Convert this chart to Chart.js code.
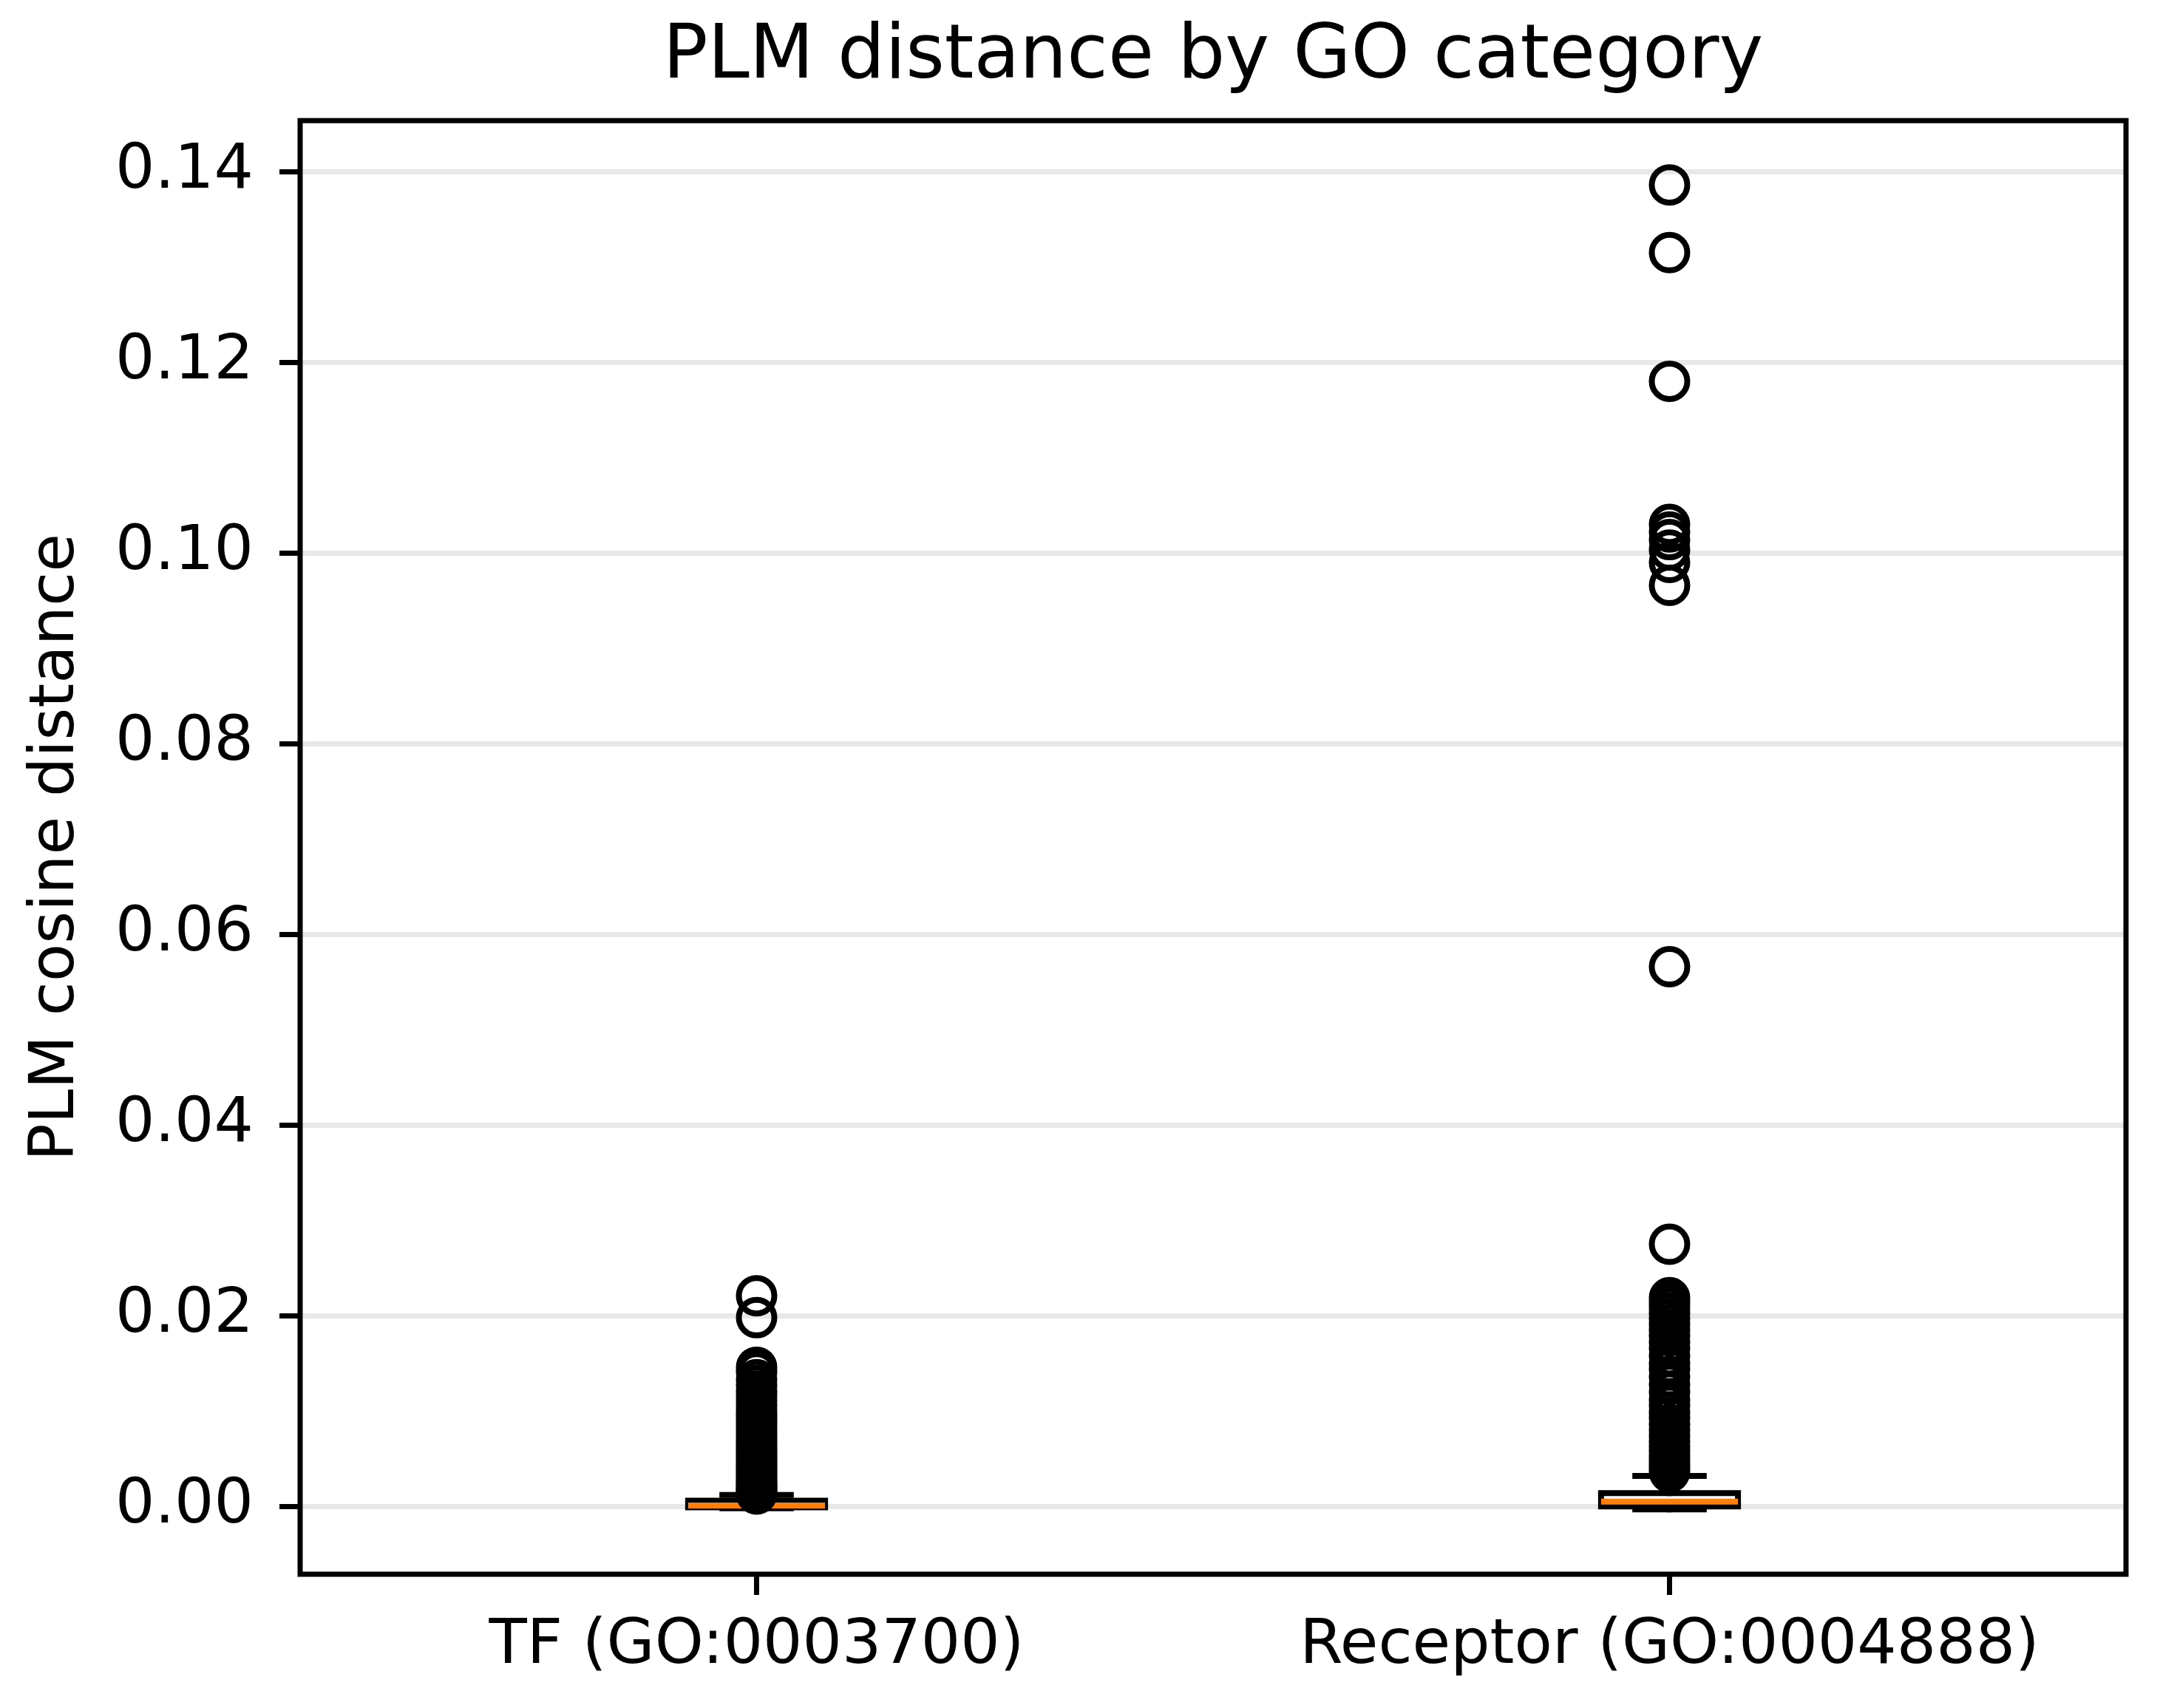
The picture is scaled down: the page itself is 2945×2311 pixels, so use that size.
<!DOCTYPE html>
<html>
<head>
<meta charset="utf-8">
<script src="https://cdn.jsdelivr.net/npm/chart.js@4.4.1/dist/chart.umd.min.js"></script>
<style>
  html, body { margin: 0; padding: 0; background: #fff; }
  canvas { display: block; }
</style>
</head>
<body>
<canvas id="chart" width="2945" height="2311"></canvas>
<script>
const categories = ['TF (GO:0003700)', 'Receptor (GO:0004888)']
const positions = [1, 2]
const whiskerLow = [-0.0002, -0.0003]
const q1 = [-0.0001, 0.0000]
const medians = [0.0001, 0.0005]
const q3 = [0.0006, 0.0014]
const whiskerHigh = [0.0012, 0.0032]
const tfOutliers = [
  0.0221, 0.0198, 0.0146, 0.0141, 0.0133, 0.0127, 0.0121, 0.0116, 0.0111, 0.0106,
  0.0101, 0.0097, 0.0093, 0.0089, 0.0085, 0.0081, 0.0077, 0.0073, 0.0069, 0.0066,
  0.0062, 0.0059, 0.0056, 0.0052, 0.0049, 0.0046, 0.0043, 0.0040, 0.0037, 0.0034,
  0.0031, 0.0028, 0.0026, 0.0023, 0.0021, 0.0019, 0.0017, 0.0015, 0.0013,
]
const receptorOutliers = [
  0.1386, 0.1315, 0.1180, 0.1030, 0.1022, 0.1014, 0.1003, 0.0990, 0.0966, 0.0566,
  0.0275, 0.0219, 0.0214, 0.0209, 0.0203, 0.0197, 0.0191, 0.0185, 0.0179, 0.0172,
  0.0166, 0.0158, 0.0150, 0.0144, 0.0136, 0.0128, 0.0120, 0.0112, 0.0106, 0.0099,
  0.0093, 0.0086, 0.0080, 0.0074, 0.0068, 0.0063, 0.0058, 0.0053, 0.0048, 0.0044,
  0.0040, 0.0036,
]
const outliers = [tfOutliers, receptorOutliers]
const yTicks = [0, 0.02, 0.04, 0.06, 0.08, 0.1, 0.12, 0.14]

const BOX_HALF = 0.075
const CAP_HALF = 0.0375
const FONT = 'DejaVu Sans'
const LW = 8

const lineSet = (points, color, order) => ({
  data: points,
  showLine: true,
  borderColor: color,
  borderWidth: LW,
  borderCapStyle: 'square',
  borderJoinStyle: 'miter',
  pointRadius: 0,
  pointHoverRadius: 0,
  fill: false,
  order,
})

const datasets = []
positions.forEach((p, i) => {
  // box outline
  datasets.push(lineSet([
    { x: p - BOX_HALF, y: q1[i] }, { x: p + BOX_HALF, y: q1[i] },
    { x: p + BOX_HALF, y: q3[i] }, { x: p - BOX_HALF, y: q3[i] },
    { x: p - BOX_HALF, y: q1[i] },
  ], '#000', 3))
  // whiskers
  datasets.push(lineSet([{ x: p, y: q1[i] }, { x: p, y: whiskerLow[i] }], '#000', 3))
  datasets.push(lineSet([{ x: p, y: q3[i] }, { x: p, y: whiskerHigh[i] }], '#000', 3))
  // caps
  datasets.push(lineSet([{ x: p - CAP_HALF, y: whiskerLow[i] }, { x: p + CAP_HALF, y: whiskerLow[i] }], '#000', 3))
  datasets.push(lineSet([{ x: p - CAP_HALF, y: whiskerHigh[i] }, { x: p + CAP_HALF, y: whiskerHigh[i] }], '#000', 3))
  // median
  const med = lineSet([{ x: p - BOX_HALF, y: medians[i] }, { x: p + BOX_HALF, y: medians[i] }], '#ff7f0e', 2)
  med.borderCapStyle = 'butt'
  datasets.push(med)
  // fliers
  datasets.push({
    data: outliers[i].map(v => ({ x: p, y: v })),
    showLine: false,
    pointStyle: 'circle',
    pointRadius: 24,
    pointHoverRadius: 24,
    pointBorderWidth: 8,
    pointBorderColor: '#000',
    pointBackgroundColor: 'rgba(0,0,0,0)',
    order: 1,
  })
})

const frame = {
  id: 'frame',
  afterDatasetsDraw(chart) {
    const { ctx, chartArea: a } = chart
    ctx.save()
    ctx.strokeStyle = '#000'
    ctx.lineWidth = 7
    ctx.strokeRect(a.left, a.top, a.right - a.left, a.bottom - a.top)
    ctx.restore()
  },
}

const ctx = document.getElementById('chart').getContext('2d')
new Chart(ctx, {
  type: 'scatter',
  data: { datasets },
  plugins: [frame],
  options: {
    responsive: false,
    animation: false,
    devicePixelRatio: 1,
    events: [],
    layout: { padding: { left: 0, right: 69, top: 0, bottom: 0 } },
    plugins: {
      legend: { display: false },
      tooltip: { enabled: false },
      title: {
        display: true,
        fullSize: false,
        text: 'PLM distance by GO category',
        color: '#000',
        font: { family: FONT, size: 101, weight: 'normal' },
        padding: { top: 18, bottom: 24 },
      },
    },
    scales: {
      x: {
        type: 'linear',
        min: 0.5,
        max: 2.5,
        afterFit: (scale) => { scale.height = 181 },
        afterBuildTicks: (scale) => { scale.ticks = positions.map(v => ({ value: v })) },
        border: { display: false },
        grid: {
          drawOnChartArea: false,
          drawTicks: true,
          tickLength: 28,
          tickWidth: 7,
          tickColor: '#000',
        },
        ticks: {
          color: '#000',
          font: { family: FONT, size: 84 },
          padding: 20,
          maxRotation: 0,
          autoSkip: false,
          callback: (value) => categories[positions.indexOf(value)],
        },
      },
      y: {
        type: 'linear',
        min: -0.00711,
        max: 0.14534,
        afterFit: (scale) => { scale.width = 406 },
        afterBuildTicks: (scale) => { scale.ticks = yTicks.map(v => ({ value: v })) },
        border: { display: false },
        grid: {
          color: '#e8e8e8',
          lineWidth: 7,
          tickLength: 28,
          tickWidth: 7,
          tickColor: '#000',
        },
        ticks: {
          color: '#000',
          font: { family: FONT, size: 84 },
          padding: 35,
          callback: (value) => value.toFixed(2),
        },
        title: {
          display: true,
          text: 'PLM cosine distance',
          color: '#000',
          font: { family: FONT, size: 84 },
          padding: { top: 27, bottom: 0 },
        },
      },
    },
  },
})
</script>
</body>
</html>
